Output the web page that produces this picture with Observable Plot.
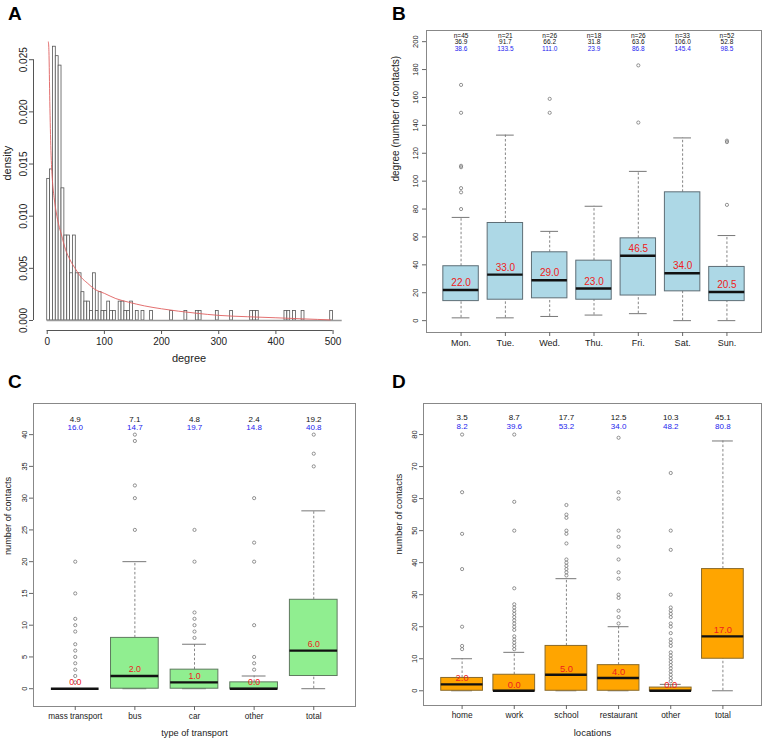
<!DOCTYPE html>
<html><head><meta charset="utf-8">
<script src="https://cdn.jsdelivr.net/npm/d3@7"></script>
<script src="https://cdn.jsdelivr.net/npm/@observablehq/plot@0.6"></script>
<style>
body{margin:0;background:#fff;}
#wrap{position:relative;width:765px;height:741px;background:#fff;overflow:hidden;font-family:"Liberation Sans",Arial,sans-serif;}
.panel{position:absolute;}
.letter{position:absolute;font:bold 19px/19px "Liberation Sans",Arial,sans-serif;color:#000;}
</style></head><body>
<div id="wrap">
 <div class="panel" id="pA" style="left:0;top:0"></div>
 <div class="panel" id="pB" style="left:380px;top:0"></div>
 <div class="panel" id="pC" style="left:0;top:370px"></div>
 <div class="panel" id="pD" style="left:380px;top:370px"></div>
 <div class="letter" style="left:8px;top:4px">A</div>
 <div class="letter" style="left:392px;top:4px">B</div>
 <div class="letter" style="left:8px;top:372px">C</div>
 <div class="letter" style="left:392px;top:372px">D</div>
</div>
<script>
// ---------- Panel A: degree histogram ----------
const binStarts = [0,5,10,15,20,25,30,35,40,45,50,55,60,65,70,75,80,85,90,95,100,105,110,115,125,130,135,140,145,155,165,180,215,240,260,265,295,320,355,360,365,415,420,430,445,495];
const binCounts = [15,16,29,28,27,14,9,9,5,9,5,5,3,2,2,1,5,1,3,1,1,2,1,1,2,2,1,1,2,1,1,1,1,1,1,1,1,1,1,1,1,1,1,1,1,1];
const fitDegree = [2,3,4.5,6.5,9,12,16,20,25,32,40,50,60,70,83,100,120,142,170,200,260,300,350,400,450,495];
const fitDensity = [0.0267,0.0258,0.021,0.0163,0.0135,0.0118,0.0103,0.0092,0.0082,0.0068,0.0058,0.0049,0.0041,0.0036,0.0030,0.0026,0.0021,0.00176,0.0014,0.00112,0.0007,0.00049,0.00036,0.00026,0.00015,0.00006];
const xTicksA = [0,100,200,300,400,500];
const yTicksA = [0,0.005,0.010,0.015,0.020,0.025];

// ---------- Panel B: degree by weekday ----------
const daysB = ["Mon.","Tue.","Wed.","Thu.","Fri.","Sat.","Sun."];
const nB = [45,21,26,18,26,33,52];
const meanB = [36.9,91.7,66.2,31.8,63.6,106.0,52.8];
const sdB = [38.6,133.5,111.0,23.9,86.8,145.4,98.5];
const loB = [2,2,3,4,5,0,0];
const q1B = [14,15,16,15,18,21,14];
const medB = [22.0,33.0,29.0,23.0,46.5,34.0,20.5];
const q3B = [39,70,49,43,59,92,38.5];
const hiB = [74,133,64,82,107,131,61];
const outB = [[80,92,95,110,111,149,169],[],[149,159],[],[142,183],[],[83,128,129]];
const yTicksB = [0,20,40,60,80,100,120,140,160,180,200];

// ---------- Panel C: type of transport ----------
const catsC = ["mass transport","bus","car","other","total"];
const meanC = [4.9,7.1,4.8,2.4,19.2];
const sdC = [16.0,14.7,19.7,14.8,40.8];
const loC = [0,0,0,0,0];
const q1C = [0,0,0,0,2];
const medC = [0,2,1,0,6];
const q3C = [0,8,3,1,14];
const hiC = [0,20,7,2,28];
const outC = [[1,2,3,4,5,6,7,9,10,11,15,20],[25,30,32,39,40],[8,9,10,11,12,20,25],[3,4,5,10,20,23,30],[35,37,40]];
const yTicksC = [0,5,10,15,20,25,30,35,40];

// ---------- Panel D: locations ----------
const catsD = ["home","work","school","restaurant","other","total"];
const meanD = [3.5,8.7,17.7,12.5,10.3,45.1];
const sdD = [8.2,39.6,53.2,34.0,48.2,80.8];
const loD = [0,0,0,0,0,0];
const q1D = [0,0,0,0,0,10];
const medD = [2,0,5,4,0,17];
const q3D = [4,5,14,8,1,38];
const hiD = [10,12,35,20,2,78];
const outD = [[13,14,20,38,49,62,80],
  [13,14,15,16,17,19,20,21,22,23,24,25,26,27,32,50,59,80],
  [36,37,38,39,40,41,46,49,50,54,55,58],
  [21,23,25,29,30,35,37,41,45,48,50,60,62,79],
  [3,4,5,6,7,8,9,10,11,12,14,15,16,18,20,21,23,24,25,26,30,44,50,68],
  []];
const yTicksD = [0,10,20,30,40,50,60,70,80];

const FONT = "Liberation Sans, Arial, Helvetica, sans-serif";
const baseStyle = {fontFamily: FONT, background: "transparent", color: "#222", overflow: "visible"};
const RED = "#ee2020", BLUE = "#2424ee";

// ----- A -----
const binWidth = 5;
const nTotal = d3.sum(nB);
const histData = binStarts.map((s, k) => ({x1: s, x2: s + binWidth, y: binCounts[k] / (nTotal * binWidth)}));
const fitData = fitDegree.map((d, k) => ({x: d, y: fitDensity[k]}));
const xDomA = [-24, 520], yDomA = [-0.00096, 0.0278];
const plotA = Plot.plot({
  width: 380, height: 370,
  marginLeft: 33, marginRight: 36, marginTop: 30, marginBottom: 40,
  x: {type: "linear", domain: xDomA},
  y: {type: "linear", domain: yDomA},
  style: baseStyle,
  marks: [
    Plot.rectY(histData, {x1: "x1", x2: "x2", y: "y", fill: "white", stroke: "#555", strokeWidth: 0.8}),
    Plot.ruleY([0], {x1: binStarts[0], x2: xDomA[1] - 4, stroke: "#999", strokeWidth: 1.3}),
    Plot.line(fitData, {x: "x", y: "y", stroke: "#e06060", strokeWidth: 0.9, curve: "monotone-x"}),
    Plot.ruleY([yDomA[0]], {x1: xTicksA[0], x2: xTicksA[xTicksA.length-1], stroke: "#555"}),
    Plot.ruleX([xDomA[0]], {y1: yTicksA[0], y2: yTicksA[yTicksA.length-1], stroke: "#555"}),
    Plot.axisX({ticks: xTicksA, tickSize: 4, tickPadding: 3, fontSize: 10, label: null, stroke: "#555"}),
    Plot.axisY({ticks: yTicksA, tickFormat: d3.format(".3f"), tickSize: 4, tickPadding: 3, tickRotate: -90, fontSize: 10, label: null, stroke: "#555"}),
    Plot.text(["degree"], {text: d => d, frameAnchor: "bottom", dy: 28, lineAnchor: "middle", fontSize: 11}),
    Plot.text(["density"], {text: d => d, frameAnchor: "left", dx: -26, rotate: -90, lineAnchor: "middle", fontSize: 11})
  ]
});
document.getElementById("pA").appendChild(plotA);

// ----- box panel builder -----
function boxPanel(cfg) {
  const stats = cfg.cats.map((c, k) => ({
    i: k + 1, cat: c, lo: cfg.lo[k], q1: cfg.q1[k], med: cfg.med[k], q3: cfg.q3[k], hi: cfg.hi[k],
    mean: cfg.mean[k], sd: cfg.sd[k], n: cfg.n ? cfg.n[k] : null
  }));
  const outs = cfg.out.flatMap((arr, k) => arr.map(v => ({i: k + 1, v})));
  const half = 0.4, cap = 0.2;
  const marks = [
    Plot.ruleX(stats, {x: "i", y1: "q3", y2: "hi", stroke: "#777", strokeWidth: 0.9, strokeDasharray: "2.5,2"}),
    Plot.ruleX(stats, {x: "i", y1: "lo", y2: "q1", stroke: "#777", strokeWidth: 0.9, strokeDasharray: "2.5,2"}),
    Plot.ruleY(stats, {y: "hi", x1: d => d.i - cap, x2: d => d.i + cap, stroke: "#777", strokeWidth: 1}),
    Plot.ruleY(stats, {y: "lo", x1: d => d.i - cap, x2: d => d.i + cap, stroke: "#777", strokeWidth: 1}),
    Plot.rect(stats, {x1: d => d.i - half, x2: d => d.i + half, y1: "q1", y2: "q3", fill: cfg.fill, stroke: cfg.border, strokeWidth: 1}),
    Plot.ruleY(stats, {y: "med", x1: d => d.i - half, x2: d => d.i + half, stroke: "#111", strokeWidth: 2.4}),
    Plot.dot(outs, {x: "i", y: "v", r: 1.6, stroke: "#777", strokeWidth: 0.8, fill: "none"}),
    Plot.text(stats, {x: "i", y: "med", text: d => d.med.toFixed(1), dy: cfg.medDy, fill: RED, fontSize: cfg.medFont}),
    Plot.frame({stroke: "#888", strokeWidth: 1}),
    Plot.axisX({ticks: stats.map(d => d.i), tickFormat: i => cfg.cats[i - 1], tickSize: 4, tickPadding: 3, fontSize: cfg.xFont, label: null, stroke: "#666"}),
    Plot.axisY({ticks: cfg.yTicks, tickSize: 4, tickPadding: cfg.yPad, tickRotate: -90, fontSize: cfg.yFont, label: null, stroke: "#666"}),
    Plot.text([cfg.yTitle], {text: d => d, frameAnchor: "left", dx: cfg.yTitleDx, rotate: -90, lineAnchor: "middle", fontSize: cfg.titleFont})
  ];
  if (cfg.n) marks.push(Plot.text(stats, {x: "i", frameAnchor: "top", dy: cfg.topDy[0], text: d => "n=" + d.n, fontSize: cfg.topFont, fill: "#111"}));
  marks.push(Plot.text(stats, {x: "i", frameAnchor: "top", dy: cfg.topDy[1], text: d => d.mean.toFixed(1), fontSize: cfg.topFont, fill: "#111"}));
  marks.push(Plot.text(stats, {x: "i", frameAnchor: "top", dy: cfg.topDy[2], text: d => d.sd.toFixed(1), fontSize: cfg.topFont, fill: BLUE}));
  if (cfg.xTitle) marks.push(Plot.text([cfg.xTitle], {text: d => d, frameAnchor: "bottom", dy: cfg.xTitleDy, lineAnchor: "middle", fontSize: cfg.titleFont}));
  return Plot.plot({
    width: cfg.width, height: cfg.height,
    marginLeft: cfg.ml, marginRight: cfg.mr, marginTop: cfg.mt, marginBottom: cfg.mb,
    x: {type: "linear", domain: cfg.xDomain},
    y: {type: "linear", domain: cfg.yDomain},
    style: baseStyle,
    marks
  });
}

document.getElementById("pB").appendChild(boxPanel({
  width: 385, height: 370, ml: 46, mr: 4, mt: 30, mb: 38,
  cats: daysB, n: nB, mean: meanB, sd: sdB, lo: loB, q1: q1B, med: medB, q3: q3B, hi: hiB, out: outB,
  fill: "#add8e6", border: "#5e6e76", xDomain: [0.22, 7.78], yDomain: [-8.5, 208], yTicks: yTicksB,
  medDy: -7, medFont: 10, xFont: 9, yFont: 7.5, yPad: 5, topFont: 6.5, topDy: [2.6, 9.2, 15.8],
  yTitle: "degree (number of contacts)", yTitleDx: -31, titleFont: 10
}));

document.getElementById("pC").appendChild(boxPanel({
  width: 380, height: 371, ml: 33, mr: 25, mt: 33, mb: 35,
  cats: catsC, mean: meanC, sd: sdC, lo: loC, q1: q1C, med: medC, q3: q3C, hi: hiC, out: outC,
  fill: "#90ee90", border: "#5f7a5f", xDomain: [0.3, 5.7], yDomain: [-2.8, 44.9], yTicks: yTicksC,
  medDy: -6.5, medFont: 8.8, xFont: 8.2, yFont: 7.5, yPad: 3, topFont: 8, topDy: [0, 12.4, 21.1],
  yTitle: "number of contacts", yTitleDx: -25, titleFont: 9.2,
  xTitle: "type of transport", xTitleDy: 27
}));

document.getElementById("pD").appendChild(boxPanel({
  width: 385, height: 371, ml: 43, mr: 4, mt: 33, mb: 36,
  cats: catsD, mean: meanD, sd: sdD, lo: loD, q1: q1D, med: medD, q3: q3D, hi: hiD, out: outD,
  fill: "#ffa500", border: "#8a6a2a", xDomain: [0.26, 6.74], yDomain: [-4.6, 89.7], yTicks: yTicksD,
  medDy: -6, medFont: 9.4, xFont: 8.4, yFont: 7.5, yPad: 3, topFont: 8, topDy: [0, 11.2, 19.9],
  yTitle: "number of contacts", yTitleDx: -25, titleFont: 9.5,
  xTitle: "locations", xTitleDy: 27
}));
</script>
</body></html>
